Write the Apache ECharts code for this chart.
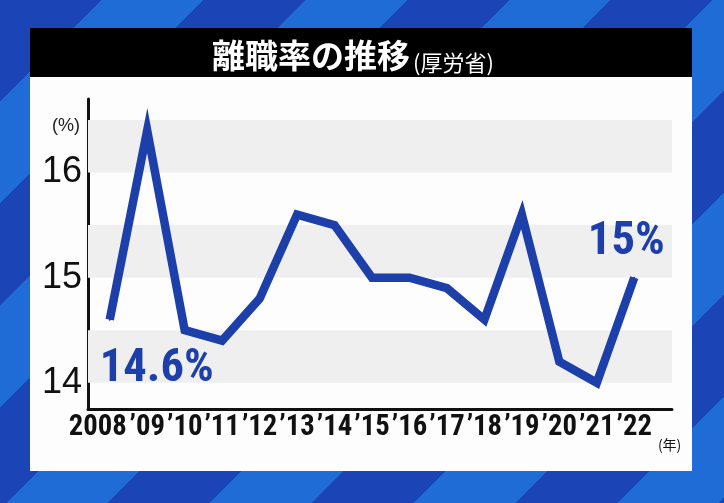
<!DOCTYPE html>
<html>
<head>
<meta charset="utf-8">
<script src="https://cdn.jsdelivr.net/npm/echarts@6/dist/echarts.min.js"></script>
<style>
html,body{margin:0;padding:0;width:724px;height:503px;overflow:hidden;
background:repeating-linear-gradient(135deg,#1b45b6 0px,#1b45b6 72px,#1f6cd6 72px,#1f6cd6 144px);}
#c{width:724px;height:503px;}
</style>
</head>
<body>
<div id="c"></div>
<script>
// ---- data ----
const years = ['2008','2009','2010','2011','2012','2013','2014','2015','2016','2017','2018','2019','2020','2021','2022'];
const xLabels = ['2008','’09','’10','’11','’12','’13','’14','’15','’16','’17','’18','’19','’20','’21','’22'];
const rates = [14.6,16.4,14.5,14.4,14.8,15.6,15.5,15.0,15.0,14.9,14.6,15.6,14.2,14.0,15.0];
const yTicks = [14,15,16];
const bands = [[14,14.5],[15,15.5],[16,16.5]];
const titleMain = '離職率の推移';
const titleSub = '(厚労省)';
const yUnit = '(%)';
const xUnit = '(年)';

const blue = '#1c3fa9';
const labelFont = '"Liberation Sans Narrow","Roboto Condensed","Liberation Sans",sans-serif';
const last = rates.length - 1;

// size a font so a sample string has a given width in whatever font is installed
const cv = document.createElement('canvas').getContext('2d');
function fitSize(sample, family, weight, targetW, maxSize) {
  cv.font = weight + ' 40px ' + family;
  const w = cv.measureText(sample).width;
  return Math.min(maxSize, Math.round(40 * targetW / w * 10) / 10);
}
const xLabelSize = fitSize('2008', labelFont, 'bold', 58, 40);
const valueSize = fitSize('14.6%', labelFont, 'bold', 114, 50);

const lineData = rates.map((v, i) => {
  if (i === 0) {
    return {value: v, label: {show: true, position: 'bottom', formatter: v + '%'}};
  }
  if (i === last) {
    return {value: v, label: {show: true, position: 'top', formatter: v.toFixed(0) + '%'}};
  }
  return v;
});

const chart = echarts.init(document.getElementById('c'));
chart.setOption({
  animation: false,
  backgroundColor: 'transparent',
  graphic: [
    {type: 'rect', z: -10, silent: true, shape: {x: 30, y: 28, width: 662, height: 443},
      style: {fill: '#fdfdfd'}},
    {type: 'rect', z: -9, silent: true, shape: {x: 30, y: 28, width: 662, height: 49},
      style: {fill: '#000000'}}
  ],
  title: {
    text: '{a|' + titleMain + '}{b|' + titleSub + '}',
    left: 207, top: 30,
    textStyle: {
      rich: {
        a: {fontFamily: '"Noto Sans CJK JP"', fontWeight: 'bold', fontSize: 33, color: '#fff', lineHeight: 40},
        b: {fontFamily: '"Noto Sans CJK JP"', fontWeight: 'normal', fontSize: 22, color: '#fff', lineHeight: 40, verticalAlign: 'bottom', padding: [0,0,1,3]}
      }
    }
  },
  grid: [
    {left: 88, right: 52, top: 99, bottom: 94},
    {left: 91, right: 71, top: 99, bottom: 94}
  ],
  xAxis: [
    {type: 'category', gridIndex: 0, data: years, boundaryGap: true,
      axisLine: {show: true, lineStyle: {color: '#111', width: 3}},
      axisTick: {show: false}, axisLabel: {show: false}, splitLine: {show: false}},
    {type: 'category', gridIndex: 1, data: xLabels, boundaryGap: true,
      axisLine: {show: false}, axisTick: {show: false}, splitLine: {show: false},
      name: xUnit, nameLocation: 'end', nameGap: 2,
      nameTextStyle: {fontFamily: '"Noto Sans CJK JP"', fontSize: 14, color: '#111', verticalAlign: 'top', align: 'left', padding: [29,0,0,0]},
      axisLabel: {interval: 0, margin: 4, color: '#111', fontFamily: labelFont, fontWeight: 'bold', fontSize: xLabelSize,
        formatter: (v) => v === '2008' ? '{s|' + v + '}' : v,
        rich: {s: {fontFamily: labelFont, fontWeight: 'bold', fontSize: xLabelSize, color: '#111', padding: [0, 24, 0, 0]}}}}
  ],
  yAxis: [
    {type: 'value', gridIndex: 0, min: 13.75, max: 16.7, interval: 0.25,
      axisLine: {show: true, lineStyle: {color: '#111', width: 3}},
      axisTick: {show: false}, splitLine: {show: false},
      name: yUnit, nameLocation: 'end', nameGap: -36,
      nameTextStyle: {fontFamily: '"Liberation Sans"', fontSize: 18, color: '#222', align: 'right', padding: [0, 8, 0, 0]},
      axisLabel: {margin: 6, color: '#111', fontFamily: '"Liberation Sans"', fontSize: 36,
        formatter: (v) => yTicks.indexOf(Math.round(v * 100) / 100) >= 0 ? String(Math.round(v)) : ''}},
    {type: 'value', gridIndex: 1, min: 13.75, max: 16.7, show: false}
  ],
  series: [
    {type: 'line', xAxisIndex: 0, yAxisIndex: 0, data: years.map(() => '-'), silent: true,
      symbol: 'none', lineStyle: {opacity: 0},
      markArea: {silent: true, itemStyle: {color: '#efefef'},
        data: bands.map(b => [{yAxis: b[0]}, {yAxis: b[1]}])}},
    {type: 'line', xAxisIndex: 1, yAxisIndex: 1, data: lineData,
      symbol: 'circle', symbolSize: 2, showSymbol: true,
      lineStyle: {color: blue, width: 8.5, join: 'miter'},
      itemStyle: {color: blue},
      labelLayout: (p) => p.dataIndex === 0 ? {dx: 47, dy: 20, hideOverlap: false}
                                            : {dx: -8, dy: -6, hideOverlap: false},
      label: {color: blue, fontFamily: labelFont, fontWeight: 'bold', fontSize: valueSize}}
  ]
});
</script>
</body>
</html>
